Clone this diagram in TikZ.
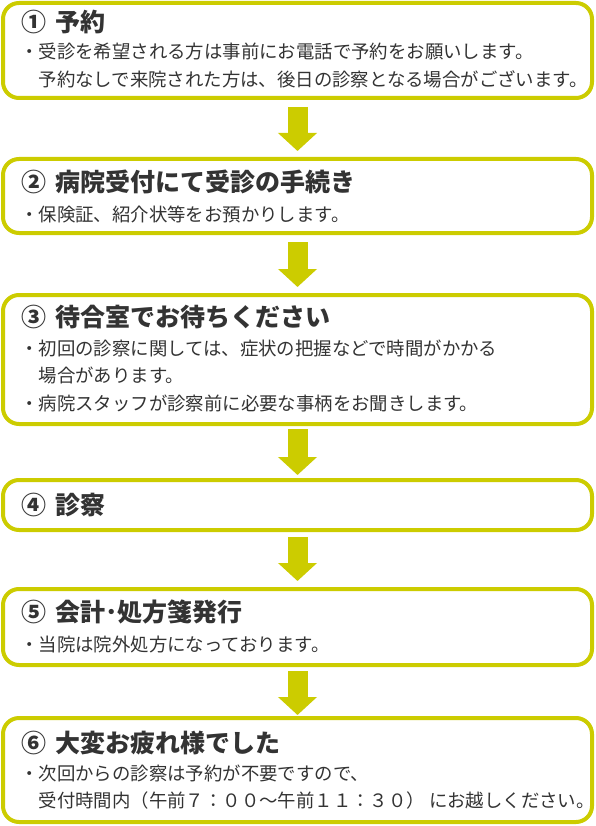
\documentclass[tikz,border=0pt]{standalone}
\usepackage{fontspec}
\setmainfont{Noto Sans CJK JP}
\usetikzlibrary{positioning,arrows.meta}
\definecolor{frame}{RGB}{204,204,0}
\definecolor{ink}{RGB}{51,51,51}

\begin{document}
\begin{tikzpicture}[x=1pt, y=1pt,
    box/.style = {draw=frame, fill=white, line width=4pt, rounded corners=16pt, minimum width=589pt, outer sep=0pt, inner sep=0pt},
    head/.style = {anchor=west, inner sep=0pt, text=ink, font=\fontsize{25}{25}\selectfont\bfseries},
    body/.style = {anchor=north west, inner sep=0pt, align=left, text=ink, font=\fontsize{18.4}{27.5}\selectfont},
    flow/.style = {draw=frame, line width=20pt, -{Triangle[width=38pt,length=18pt]}}]
    \useasboundingbox (0,0) rectangle (595,-826);
    % steps
    \node[box, minimum height=95pt, anchor=north] (1) at (297.5,-3) {};
    \node[box, minimum height=74pt, below=61pt of 1] (2) {};
    \node[box, minimum height=129pt, below=62pt of 2] (3) {};
    \node[box, minimum height=50pt, below=56pt of 3] (4) {};
    \node[box, minimum height=76pt, below=59pt of 4] (5) {};
    \node[box, minimum height=104pt, below=53pt of 5] (6) {};
    % titles
    \node[head] (t1) at ([shift={(18pt,-18.5pt)}]1.north west) {①\hspace{9pt}予約};
    \node[head] (t2) at ([shift={(18pt,-23pt)}]2.north west) {②\hspace{9pt}病院受付にて受診の手続き};
    \node[head] (t3) at ([shift={(18pt,-22.5pt)}]3.north west) {③\hspace{9pt}待合室でお待ちください};
    \node[head] (t4) at ([shift={(18pt,-25pt)}]4.north west) {④\hspace{9pt}診察};
    \node[head] (t5) at ([shift={(18pt,-23pt)}]5.north west) {⑤\hspace{9pt}会計･処方箋発行};
    \node[head] (t6) at ([shift={(18pt,-25pt)}]6.north west) {⑥\hspace{9pt}大変お疲れ様でした};
    % notes
    \node[body] (s1) at ([shift={(17pt,-40pt)}]1.north west)
        {・受診を希望される方は事前にお電話で予約をお願いします。\\　予約なしで来院された方は、後日の診察となる場合がございます。};
    \node[body] (s2) at ([shift={(17pt,-46.5pt)}]2.north west)
        {・保険証、紹介状等をお預かりします。};
    \node[body] (s3) at ([shift={(17pt,-44.5pt)}]3.north west)
        {・初回の診察に関しては、症状の把握などで時間がかかる\\　場合があります。\\・病院スタッフが診察前に必要な事柄をお聞きします。};
    \node[body] (s5) at ([shift={(17pt,-46.5pt)}]5.north west)
        {・当院は院外処方になっております。};
    \node[body] (s6) at ([shift={(17pt,-46.5pt)}]6.north west)
        {・次回からの診察は予約が不要ですので、\\　受付時間内（午前７：００～午前１１：３０） にお越しください。};
    % arrows
    \draw[flow, shorten <=9pt, shorten >=8pt] (1) -- (2);
    \draw[flow, shorten <=9pt, shorten >=8pt] (2) -- (3);
    \draw[flow, shorten <=5pt, shorten >=5pt] (3) -- (4);
    \draw[flow, shorten <=7pt, shorten >=8pt] (4) -- (5);
    \draw[flow, shorten <=6pt, shorten >=3pt] (5) -- (6);
\end{tikzpicture}
\end{document}
